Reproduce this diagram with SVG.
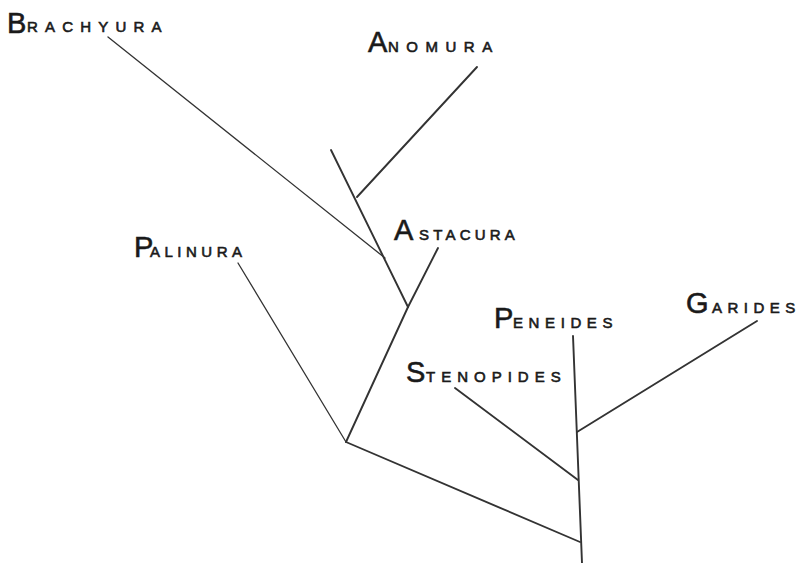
<svg xmlns="http://www.w3.org/2000/svg" width="801" height="563" viewBox="0 0 801 563">
<style>
.br{fill:none;stroke:#333;stroke-width:1.9;stroke-linecap:round}
.thin{stroke-width:1.3}
text{font-family:"Liberation Sans","DejaVu Sans",sans-serif;fill:#1a1a1a;stroke:#1a1a1a;stroke-width:0.6}
.big{font-size:29px}
.sm{font-size:15px}
</style>
<rect width="801" height="563" fill="#fff"/>
<g id="connectors">
<line class="br thin" x1="108" y1="37" x2="385" y2="258"/>
<line class="br" x1="331" y1="150" x2="408" y2="307"/>
<line class="br" x1="477" y1="67" x2="357" y2="197"/>
<line class="br" x1="438" y1="248" x2="408" y2="307"/>
<line class="br" x1="408" y1="307" x2="346" y2="442"/>
<line class="br thin" x1="238" y1="263" x2="346" y2="442"/>
<line class="br" x1="346" y1="442" x2="580" y2="542"/>
<line class="br" x1="573" y1="336" x2="582" y2="563"/>
<line class="br" x1="757" y1="321" x2="577" y2="432"/>
<line class="br" x1="455" y1="388" x2="578" y2="480"/>
</g>
<g id="brachyura"><text y="33"><tspan class="big" x="7">B</tspan><tspan class="sm" x="27" y="32" letter-spacing="7.2">RACHYURA</tspan></text></g>
<g id="anomura"><text y="52"><tspan class="big" x="368">A</tspan><tspan class="sm" x="388" letter-spacing="7.5">NOMURA</tspan></text></g>
<g id="palinura"><text y="257"><tspan class="big" x="134" font-size="24">P</tspan><tspan class="sm" x="150" letter-spacing="4.5">ALINURA</tspan></text></g>
<g id="astacura"><text y="240"><tspan class="big" x="394">A</tspan><tspan class="sm" x="419" letter-spacing="4.2">STACURA</tspan></text></g>
<g id="peneides"><text y="328"><tspan class="big" x="494" font-size="27">P</tspan><tspan class="sm" x="513" letter-spacing="5.6">ENEIDES</tspan></text></g>
<g id="stenopides"><text y="382"><tspan class="big" x="406">S</tspan><tspan class="sm" x="426" letter-spacing="6">TENOPIDES</tspan></text></g>
<g id="garides"><text y="313"><tspan class="big" x="686">G</tspan><tspan class="sm" x="712" letter-spacing="5.5">ARIDES</tspan></text></g>
</svg>
